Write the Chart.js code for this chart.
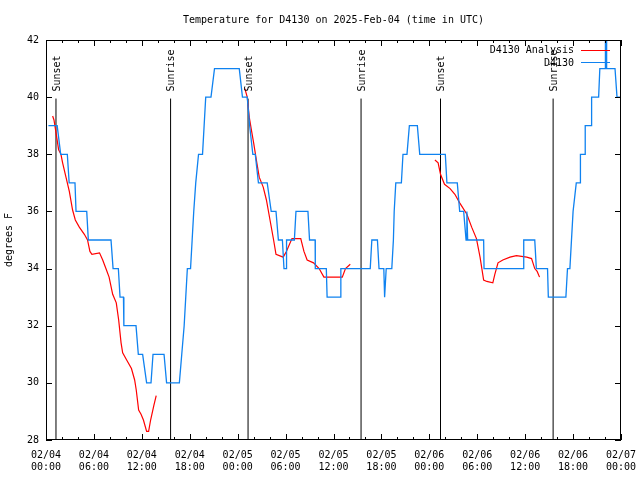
<!DOCTYPE html>
<html>
<head>
<meta charset="utf-8">
<script src="https://cdn.jsdelivr.net/npm/chart.js@4"></script>
<style>
  html, body { margin: 0; padding: 0; background: #fff; }
  #c { display: block; }
</style>
</head>
<body>
<canvas id="c" width="640" height="480"></canvas>
<script>
// hours since 2025-02-04 00:00 UTC
const xTickDates = ["02/04", "02/04", "02/04", "02/04", "02/05", "02/05", "02/05", "02/05", "02/06", "02/06", "02/06", "02/06", "02/07"];
const xTickTimes = ["00:00", "06:00", "12:00", "18:00", "00:00", "06:00", "12:00", "18:00", "00:00", "06:00", "12:00", "18:00", "00:00"];

// observed temperature (D4130)
const obsHours = [0.3, 1.4, 1.84, 2.67, 2.9, 3.63, 3.76, 5.1, 5.3, 8.14, 8.4, 9.06, 9.27, 9.7, 9.75, 11.27,
  11.56, 12.1, 12.6, 13.15, 13.4, 14.78, 15.1, 16.7, 17.0, 17.3, 17.5, 17.7, 18.1, 18.3, 18.5, 18.75,
  19.1, 19.6, 19.8, 20.0, 20.66, 21.1, 24.2, 24.6, 25.2, 25.5, 25.9, 26.2, 26.6, 27.7, 28.2, 28.8,
  29.1, 29.6, 29.8, 30.1, 30.12, 31.1, 31.3, 32.8, 33.0, 33.7, 33.72, 35.1, 35.2, 36.9, 36.92, 40.6,
  40.8, 41.5, 41.7, 42.3, 42.4, 42.6, 43.3, 43.5, 43.6, 43.8, 44.5, 44.7, 45.2, 45.5, 46.5, 46.8,
  50.0, 50.2, 51.5, 51.8, 52.3, 52.6, 52.7, 52.8, 54.8, 54.85, 59.8, 59.82, 61.2, 61.4, 62.8, 62.9,
  65.1, 65.3, 65.6, 66.0, 66.4, 66.9, 66.92, 67.5, 67.52, 68.3, 68.32, 69.2, 69.35, 70.0, 70.05, 70.15,
  70.2, 71.25, 71.5, 72.0];
const obsTemps = [39, 39, 38, 38, 37, 37, 36, 36, 35, 35, 34, 34, 33, 33, 32, 32,
  31, 31, 30, 30, 31, 31, 30, 30, 31, 32, 33, 34, 34, 35, 36, 37,
  38, 38, 39, 40, 40, 41, 41, 40, 40, 39, 38, 38, 37, 37, 36, 36,
  35, 35, 34, 34, 35, 35, 36, 36, 35, 35, 34, 34, 33, 33, 34, 34,
  35, 35, 34, 34, 33, 34, 34, 35, 36, 37, 37, 38, 38, 39, 39, 38,
  38, 37, 37, 36, 36, 35, 36, 35, 35, 34, 34, 35, 35, 34, 34, 33,
  33, 34, 34, 36, 37, 37, 38, 38, 39, 39, 40, 40, 41, 41, 42, 42,
  41, 41, 40, 40];

// analysis (null = break between runs)
const anaHours = [0.83, 1.0, 1.34, 1.58, 1.87, 2.08, 2.5, 2.92, 3.33, 3.67, 4.17, 4.8, 5.2, 5.5, 5.75, 6.7,
  7.1, 7.5, 7.9, 8.35, 8.8, 9.1, 9.4, 9.6, 10.1, 10.7, 11.1, 11.3, 11.6, 11.9, 12.2, 12.6,
  12.85, 13.1, 13.5, 13.8, 19.0,
  24.9, 25.2, 25.45, 25.75, 26.0, 26.4, 26.7, 27.2, 27.6, 28.05, 28.5, 28.8, 29.7, 30.1, 30.8, 31.9,
  32.3, 32.7, 33.5, 34.2, 34.8, 37.1, 37.5, 38.1, 44.0,
  48.7, 49.1, 49.4, 49.9, 50.6, 51.2, 51.8, 52.7, 53.3, 53.9, 54.35, 54.8, 55.2, 55.95, 56.2, 56.6,
  57.2, 58.1, 58.9, 60.2, 60.8, 61.2, 61.5, 61.8];
const anaTemps = [39.34, 39.2, 38.6, 38.16, 38.0, 37.7, 37.2, 36.7, 36.05, 35.7, 35.45, 35.2, 35.0, 34.6, 34.5, 34.55,
  34.3, 34.0, 33.7, 33.1, 32.8, 32.2, 31.4, 31.05, 30.8, 30.5, 30.1, 29.75, 29.05, 28.9, 28.7, 28.3,
  28.3, 28.7, 29.2, 29.55, null,
  40.3, 40.0, 39.3, 38.8, 38.4, 37.7, 37.2, 36.85, 36.4, 35.7, 35.0, 34.5, 34.4, 34.6, 35.05, 35.05,
  34.6, 34.3, 34.2, 34.0, 33.7, 33.7, 34.0, 34.15, null,
  37.8, 37.7, 37.3, 36.95, 36.8, 36.6, 36.3, 35.9, 35.45, 35.05, 34.4, 33.6, 33.55, 33.5, 33.8, 34.2,
  34.3, 34.4, 34.45, 34.4, 34.35, 34.0, 33.9, 33.7];

// sunrise / sunset markers
const eventHours = [1.25, 15.6, 25.3, 39.45, 49.4, 63.5];
const eventNames = ["Sunset", "Sunrise", "Sunset", "Sunrise", "Sunset", "Sunrise"];
const eventTop = 39.95;

const FONT = "DejaVu Sans Mono";
const BLUE = "#0f82f0";

const eventPts = [];
eventHours.forEach((h) => {
  eventPts.push({ x: h, y: 28 }, { x: h, y: eventTop }, { x: h, y: null });
});

// gnuplot style frame, inward ticks and free text
const decorations = {
  id: "decorations",
  afterDatasetsDraw(chart) {
    const { ctx, chartArea: a, scales } = chart;
    const xs = scales.x, ys = scales.y;
    ctx.save();
    ctx.strokeStyle = "#000";
    ctx.lineWidth = 1;
    ctx.strokeRect(a.left + 0.5, a.top + 0.5, a.right - a.left - 1, a.bottom - a.top - 1);

    ctx.beginPath();
    for (let h = 0; h <= 72; h += 2) {
      const x = Math.round(xs.getPixelForValue(h)) + 0.5;
      const len = h % 6 === 0 ? 6 : 3;
      ctx.moveTo(x, a.bottom); ctx.lineTo(x, a.bottom - len);
      ctx.moveTo(x, a.top); ctx.lineTo(x, a.top + len);
    }
    for (let v = 28; v <= 42; v += 2) {
      const y = Math.round(ys.getPixelForValue(v)) + 0.5;
      ctx.moveTo(a.left, y); ctx.lineTo(a.left + 6, y);
      ctx.moveTo(a.right, y); ctx.lineTo(a.right - 6, y);
    }
    ctx.stroke();

    ctx.fillStyle = "#000";
    ctx.font = "10px '" + FONT + "'";
    ctx.textAlign = "center";
    ctx.textBaseline = "middle";
    ctx.fillText("Temperature for D4130 on 2025-Feb-04 (time in UTC)", (a.left + a.right) / 2, 20);

    ctx.save();
    ctx.translate(9, 240);
    ctx.rotate(-Math.PI / 2);
    ctx.fillText("degrees F", 0, 0);
    ctx.restore();

    eventHours.forEach((h, i) => {
      const x = xs.getPixelForValue(h);
      const y = ys.getPixelForValue(eventTop) - 7;
      ctx.save();
      ctx.translate(x + 1, y);
      ctx.rotate(-Math.PI / 2);
      ctx.textAlign = "left";
      ctx.fillText(eventNames[i], 0, 0);
      ctx.restore();
    });

    // key
    ctx.textAlign = "right";
    ctx.fillText("D4130 Analysis", 574, 50);
    ctx.fillText("D4130", 574, 63);
    ctx.lineWidth = 1;
    ctx.strokeStyle = "#ff0000";
    ctx.beginPath(); ctx.moveTo(581, 50.5); ctx.lineTo(610, 50.5); ctx.stroke();
    ctx.strokeStyle = BLUE;
    ctx.beginPath(); ctx.moveTo(581, 62.5); ctx.lineTo(610, 62.5); ctx.stroke();
    ctx.restore();
  },
};

new Chart(document.getElementById("c"), {
  type: "line",
  data: {
    datasets: [
      {
        label: "D4130",
        data: obsHours.map((h, i) => ({ x: h, y: obsTemps[i] })),
        borderColor: BLUE,
        borderWidth: 1.3,
        pointRadius: 0,
        tension: 0,
        order: 0,
      },
      {
        label: "D4130 Analysis",
        data: anaHours.map((h, i) => ({ x: h, y: anaTemps[i] })),
        borderColor: "#ff0000",
        borderWidth: 1.2,
        pointRadius: 0,
        tension: 0,
        spanGaps: false,
        order: 1,
      },
      {
        label: "events",
        data: eventPts,
        borderColor: "#000",
        borderWidth: 1,
        pointRadius: 0,
        spanGaps: false,
        order: 2,
      },
    ],
  },
  options: {
    responsive: false,
    animation: false,
    devicePixelRatio: 1,
    layout: { padding: { top: 40, right: 19, left: 0, bottom: 0 } },
    plugins: {
      legend: { display: false },
      title: { display: false },
      tooltip: { enabled: false },
    },
    scales: {
      x: {
        type: "linear",
        min: 0,
        max: 72,
        grid: { display: false, drawTicks: false },
        border: { display: false },
        afterFit: (s) => { s.height = 40; s.paddingLeft = 0; s.paddingRight = 0; },
        ticks: {
          stepSize: 6,
          autoSkip: false,
          maxRotation: 0,
          padding: 9,
          color: "#000",
          font: { family: FONT, size: 10, lineHeight: 1.2 },
          callback: (v) => [xTickDates[v / 6], xTickTimes[v / 6]],
        },
      },
      y: {
        min: 28,
        max: 42,
        grid: { display: false, drawTicks: false },
        border: { display: false },
        afterFit: (s) => { s.width = 46; s.paddingTop = 0; s.paddingBottom = 0; },
        ticks: {
          stepSize: 2,
          padding: 7,
          color: "#000",
          font: { family: FONT, size: 10 },
        },
      },
    },
  },
  plugins: [decorations],
});
</script>
</body>
</html>
